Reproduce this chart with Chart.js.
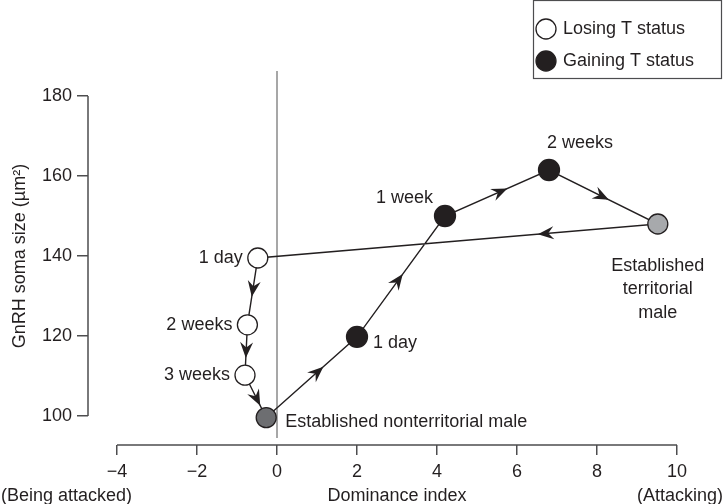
<!DOCTYPE html>
<html>
<head>
<meta charset="utf-8">
<script src="https://cdn.jsdelivr.net/npm/chart.js@4.4.1/dist/chart.umd.min.js"></script>
<style>
  html, body { margin: 0; padding: 0; background: #fff; }
  #wrap { width: 724px; height: 504px; position: relative; }
</style>
</head>
<body>
<div id="wrap"><canvas id="somaChart" width="724" height="504"></canvas></div>
<script>
// ---- data ----
const xTickValues = [-4, -2, 0, 2, 4, 6, 8, 10];
const yTickValues = [100, 120, 140, 160, 180];

// gaining T status (black)
const gainingX = [2.0, 4.2, 6.8];
const gainingY = [119.8, 150, 161.5];
const gainingLabels = ["1 day", "1 week", "2 weeks"];

// losing T status (white)
const losingX = [-0.48, -0.74, -0.8];
const losingY = [139.5, 122.8, 110.2];
const losingLabels = ["1 day", "2 weeks", "3 weeks"];

// established males (grey): nonterritorial, territorial
const establishedX = [-0.27, 9.52];
const establishedY = [99.6, 148];
const establishedLabels = [["Established nonterritorial male"], ["Established", "territorial", "male"]];

// vertical reference line at dominance index 0
const dividerX = [0, 0];
const dividerY = [94.5, 186.25];

const FONT = "'Liberation Sans', Arial, Helvetica, sans-serif";
const INK = "#231f20";

function toPoints(xs, ys) {
  return xs.map((x, i) => ({ x: x, y: ys[i] }));
}

// cycle: nonterritorial -> gaining -> territorial -> losing -> nonterritorial
const nonT = { x: establishedX[0], y: establishedY[0] };
const terr = { x: establishedX[1], y: establishedY[1] };
const pathPoints = [nonT]
  .concat(toPoints(gainingX, gainingY))
  .concat([terr])
  .concat(toPoints(losingX, losingY))
  .concat([nonT]);

// where along each segment the arrowhead tip sits
const arrowAt = [0.63, 0.52, 0.6, 0.55, 0.3, 0.58, 0.66, 0.72];

function fmtTick(v) {
  return v < 0 ? "\u2212" + Math.abs(v) : String(v);
}

// axis lines that stop at the first/last tick (detached axes)
const axisLinesPlugin = {
  id: "axisLines",
  beforeDatasetsDraw(chart) {
    const { ctx, scales, chartArea } = chart;
    const x = scales.x, y = scales.y;
    ctx.save();
    ctx.strokeStyle = "#4d4d4f";
    ctx.lineWidth = 1.5;
    ctx.beginPath();
    ctx.moveTo(x.getPixelForValue(xTickValues[0]), chartArea.bottom);
    ctx.lineTo(x.getPixelForValue(xTickValues[xTickValues.length - 1]), chartArea.bottom);
    ctx.moveTo(chartArea.left, y.getPixelForValue(yTickValues[0]));
    ctx.lineTo(chartArea.left, y.getPixelForValue(yTickValues[yTickValues.length - 1]));
    ctx.stroke();
    ctx.restore();
  },
};

// arrowheads along the path
const arrowsPlugin = {
  id: "arrows",
  afterDatasetsDraw(chart) {
    const meta = chart.getDatasetMeta(2);
    const pts = meta.data;
    const ctx = chart.ctx;
    ctx.save();
    ctx.fillStyle = INK;
    for (let i = 0; i < pts.length - 1; i++) {
      const p0 = pts[i], p1 = pts[i + 1];
      const t = arrowAt[i];
      const tx = p0.x + (p1.x - p0.x) * t;
      const ty = p0.y + (p1.y - p0.y) * t;
      const ang = Math.atan2(p1.y - p0.y, p1.x - p0.x);
      ctx.save();
      ctx.translate(tx, ty);
      ctx.rotate(ang);
      ctx.beginPath();
      ctx.moveTo(0, 0);
      ctx.lineTo(-16, -6.5);
      ctx.lineTo(-10.5, 0);
      ctx.lineTo(-16, 6.5);
      ctx.closePath();
      ctx.fill();
      ctx.restore();
    }
    ctx.restore();
  },
};

// text next to the points, titles and the boxed key
const annotationPlugin = {
  id: "annotations",
  afterDraw(chart) {
    const { ctx, chartArea } = chart;
    ctx.save();
    ctx.fillStyle = INK;
    ctx.font = "18px " + FONT;
    ctx.textBaseline = "middle";

    const gMeta = chart.getDatasetMeta(0).data;
    const lMeta = chart.getDatasetMeta(1).data;
    const eMeta = chart.getDatasetMeta(3).data;

    // losing labels: to the left
    ctx.textAlign = "right";
    lMeta.forEach((p, i) => ctx.fillText(losingLabels[i], p.x - 15, p.y));

    // gaining labels
    ctx.textAlign = "left";
    ctx.fillText(gainingLabels[0], gMeta[0].x + 16, gMeta[0].y + 6);
    ctx.textAlign = "right";
    ctx.fillText(gainingLabels[1], gMeta[1].x - 12, gMeta[1].y - 18);
    ctx.textAlign = "left";
    ctx.fillText(gainingLabels[2], gMeta[2].x - 2, gMeta[2].y - 27);

    // established labels
    ctx.textAlign = "left";
    ctx.fillText(establishedLabels[0][0], eMeta[0].x + 19, eMeta[0].y + 4);
    ctx.textAlign = "center";
    establishedLabels[1].forEach((line, k) => {
      ctx.fillText(line, eMeta[1].x, eMeta[1].y + 42 + k * 23.5);
    });

    // axis titles
    ctx.textAlign = "center";
    ctx.fillText("Dominance index", 397, 496);
    ctx.textAlign = "left";
    ctx.fillText("(Being attacked)", 1, 496);
    ctx.textAlign = "right";
    ctx.fillText("(Attacking)", 723, 496);

    ctx.save();
    ctx.translate(20, (chartArea.top + chart.scales.y.getPixelForValue(yTickValues[0])) / 2);
    ctx.rotate(-Math.PI / 2);
    ctx.textAlign = "center";
    ctx.fillText("GnRH soma size (\u00b5m\u00b2)", 0, 0);
    ctx.restore();

    // key box
    ctx.strokeStyle = "#4d4d4f";
    ctx.lineWidth = 1.2;
    ctx.strokeRect(533.5, 0.5, 188, 78);
    const keys = [
      { label: "Losing T status", fill: "#ffffff", y: 29 },
      { label: "Gaining T status", fill: INK, y: 61 },
    ];
    keys.forEach((k) => {
      ctx.beginPath();
      ctx.arc(546, k.y, 10, 0, Math.PI * 2);
      ctx.fillStyle = k.fill;
      ctx.fill();
      ctx.strokeStyle = INK;
      ctx.lineWidth = 1.3;
      ctx.stroke();
      ctx.fillStyle = INK;
      ctx.textAlign = "left";
      ctx.fillText(k.label, 563, k.y);
    });
    ctx.restore();
  },
};

const ctxEl = document.getElementById("somaChart");

new Chart(ctxEl, {
  type: "scatter",
  data: {
    datasets: [
      {
        label: "Gaining T status",
        data: toPoints(gainingX, gainingY),
        pointRadius: 10.5,
        pointBackgroundColor: INK,
        pointBorderColor: INK,
        pointBorderWidth: 1.3,
        order: 1,
      },
      {
        label: "Losing T status",
        data: toPoints(losingX, losingY),
        pointRadius: 10,
        pointBackgroundColor: "#ffffff",
        pointBorderColor: INK,
        pointBorderWidth: 1.3,
        order: 1,
      },
      {
        label: "path",
        data: pathPoints,
        showLine: true,
        borderColor: INK,
        borderWidth: 1.4,
        pointRadius: 0,
        order: 3,
      },
      {
        label: "Established",
        data: toPoints(establishedX, establishedY),
        pointRadius: 10,
        pointBackgroundColor: ["#6d6e71", "#a7a9ac"],
        pointBorderColor: INK,
        pointBorderWidth: 1.3,
        order: 1,
      },
      {
        label: "divider",
        data: toPoints(dividerX, dividerY),
        showLine: true,
        borderColor: "#8a8a8a",
        borderWidth: 1.5,
        pointRadius: 0,
        clip: false,
        order: 4,
      },
    ],
  },
  options: {
    responsive: false,
    animation: false,
    events: [],
    layout: { padding: { top: 96, right: 47, left: 0, bottom: 0 } },
    plugins: {
      legend: { display: false },
      tooltip: { enabled: false },
    },
    scales: {
      x: {
        type: "linear",
        min: -4.725,
        max: 10,
        afterFit(scale) { scale.height = 59; },
        afterBuildTicks(scale) { scale.ticks = xTickValues.map((v) => ({ value: v })); },
        border: { display: false },
        grid: { drawOnChartArea: false, drawTicks: true, tickLength: 10, color: "#4d4d4f", lineWidth: 1.5 },
        ticks: {
          padding: 6,
          color: INK,
          font: { family: FONT, size: 18 },
          maxRotation: 0,
          autoSkip: false,
          callback: (v) => fmtTick(v),
        },
      },
      y: {
        type: "linear",
        min: 92.75,
        max: 180,
        afterFit(scale) { scale.width = 88; },
        afterBuildTicks(scale) { scale.ticks = yTickValues.map((v) => ({ value: v })); },
        border: { display: false },
        grid: { drawOnChartArea: false, drawTicks: true, tickLength: 11, color: "#4d4d4f", lineWidth: 1.5 },
        ticks: {
          padding: 5,
          color: INK,
          font: { family: FONT, size: 18 },
          autoSkip: false,
          callback: (v) => fmtTick(v),
        },
      },
    },
  },
  plugins: [axisLinesPlugin, arrowsPlugin, annotationPlugin],
});
</script>
</body>
</html>
